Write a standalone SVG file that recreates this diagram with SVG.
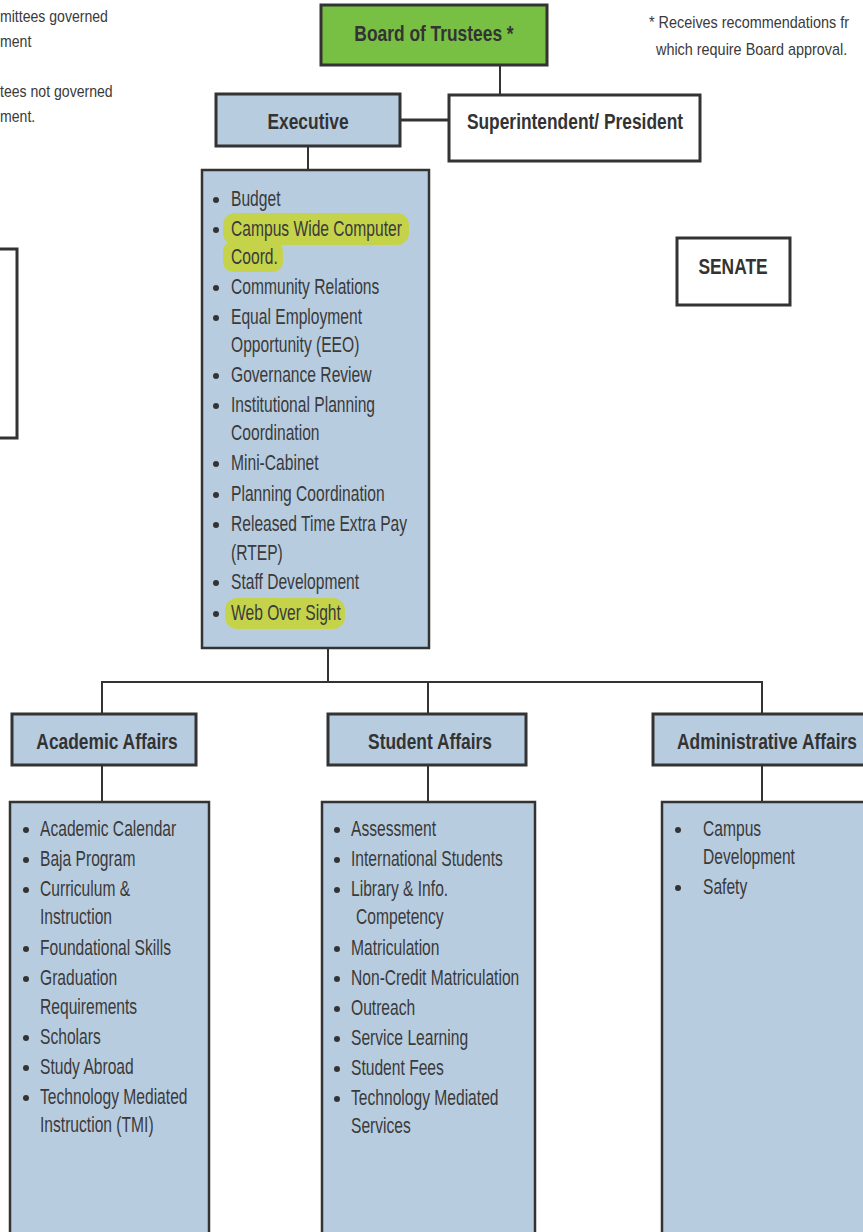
<svg xmlns="http://www.w3.org/2000/svg" width="863" height="1232" viewBox="0 0 863 1232">
<style>
.box{fill:#b8cce0;stroke:#333;stroke-width:3}
.lst{fill:#b8cce0;stroke:#333;stroke-width:2.5}
.wbox{fill:#fff;stroke:#333;stroke-width:3}
.h{font-family:"Liberation Sans",Arial,sans-serif;font-weight:bold;font-size:22px;fill:#333;text-anchor:middle}
.t{font-family:"Liberation Sans",Arial,sans-serif;font-size:22px;fill:#3a3a3a}
.n{font-family:"Liberation Sans",Arial,sans-serif;font-size:16px;fill:#3a3a3a}
.c{fill:none;stroke:#333;stroke-width:2}
.hl{fill:#c5d34a}
.b{fill:#333}
</style>
<rect width="863" height="1232" fill="#fff"/>
<g id="notes">
<text class="n" transform="translate(0,22) scale(0.88,1)">mittees governed</text>
<text class="n" transform="translate(0,47) scale(0.88,1)">ment</text>
<text class="n" transform="translate(0,97) scale(0.88,1)">tees not governed</text>
<text class="n" transform="translate(0,122) scale(0.88,1)">ment.</text>
<text class="n" transform="translate(649,28) scale(0.9,1)">* Receives recommendations fr</text>
<text class="n" transform="translate(656,55) scale(0.9,1)">which require Board approval.</text>
</g>
<g id="connectors">
<line class="c" x1="500" y1="65" x2="500" y2="95"/>
<line class="c" x1="400" y1="120" x2="449" y2="120" style="stroke-width:3"/>
<line class="c" x1="308" y1="146" x2="308" y2="170"/>
<line class="c" x1="316" y1="478" x2="316" y2="512" style="stroke-width:1.5"/>
<line class="c" x1="328" y1="648" x2="328" y2="682"/>
<polyline class="c" points="102,714 102,682 762,682 762,714"/>
<line class="c" x1="428" y1="682" x2="428" y2="714"/>
<line class="c" x1="102" y1="765" x2="102" y2="802"/>
<line class="c" x1="428" y1="765" x2="428" y2="802"/>
<line class="c" x1="762" y1="765" x2="762" y2="802"/>
</g>
<g id="left-box"><rect class="wbox" x="-10" y="249" width="27" height="189"/></g>
<g id="board">
<rect x="321" y="5" width="226" height="60" fill="#77c043" stroke="#333" stroke-width="3"/>
<text class="h" transform="translate(434,41) scale(0.79,1)">Board of Trustees *</text>
</g>
<g id="superintendent">
<rect class="wbox" x="449" y="95" width="251" height="66"/>
<text class="h" transform="translate(575,129) scale(0.79,1)">Superintendent/ President</text>
</g>
<g id="executive">
<rect class="box" x="216" y="94" width="184" height="52"/>
<text class="h" transform="translate(308,129) scale(0.79,1)">Executive</text>
</g>
<g id="senate">
<rect class="wbox" x="677" y="238" width="113" height="67"/>
<text class="h" transform="translate(733,274) scale(0.79,1)">SENATE</text>
</g>
<g id="executive-list">
<rect class="lst" x="202" y="170" width="227" height="478"/>
<rect class="hl" x="223" y="213" width="186" height="32" rx="12"/>
<rect class="hl" x="223" y="241" width="60" height="31" rx="10"/>
<rect class="hl" x="225" y="598" width="120" height="31" rx="12"/>
<g class="b">
<circle cx="216" cy="200" r="3"/><circle cx="216" cy="230" r="3"/><circle cx="216" cy="288" r="3"/><circle cx="216" cy="318" r="3"/><circle cx="216" cy="376" r="3"/><circle cx="216" cy="406" r="3"/><circle cx="216" cy="464" r="3"/><circle cx="216" cy="495" r="3"/><circle cx="216" cy="525" r="3"/><circle cx="216" cy="583" r="3"/><circle cx="216" cy="614" r="3"/>
</g>
<text class="t" transform="translate(231,206) scale(0.71,1)">Budget</text>
<text class="t" transform="translate(231,236) scale(0.71,1)">Campus Wide Computer</text>
<text class="t" transform="translate(231,264) scale(0.71,1)">Coord.</text>
<text class="t" transform="translate(231,294) scale(0.71,1)">Community Relations</text>
<text class="t" transform="translate(231,324) scale(0.71,1)">Equal Employment</text>
<text class="t" transform="translate(231,352) scale(0.71,1)">Opportunity (EEO)</text>
<text class="t" transform="translate(231,382) scale(0.71,1)">Governance Review</text>
<text class="t" transform="translate(231,412) scale(0.71,1)">Institutional Planning</text>
<text class="t" transform="translate(231,440) scale(0.71,1)">Coordination</text>
<text class="t" transform="translate(231,470) scale(0.71,1)">Mini-Cabinet</text>
<text class="t" transform="translate(231,501) scale(0.71,1)">Planning Coordination</text>
<text class="t" transform="translate(231,531) scale(0.71,1)">Released Time Extra Pay</text>
<text class="t" transform="translate(231,560) scale(0.71,1)">(RTEP)</text>
<text class="t" transform="translate(231,589) scale(0.71,1)">Staff Development</text>
<text class="t" transform="translate(231,620) scale(0.71,1)">Web Over Sight</text>
</g>
<g id="academic-affairs">
<rect class="box" x="12" y="714" width="184" height="51"/>
<text class="h" transform="translate(107,749) scale(0.79,1)">Academic Affairs</text>
</g>
<g id="student-affairs">
<rect class="box" x="328" y="714" width="198" height="51"/>
<text class="h" transform="translate(430,749) scale(0.79,1)">Student Affairs</text>
</g>
<g id="administrative-affairs">
<rect class="box" x="653" y="714" width="220" height="51"/>
<text class="h" transform="translate(767,749) scale(0.79,1)">Administrative Affairs</text>
</g>
<g id="academic-list">
<rect class="lst" x="10" y="802" width="199" height="440"/>
<g class="b">
<circle cx="26" cy="830" r="3"/><circle cx="26" cy="860" r="3"/><circle cx="26" cy="890" r="3"/><circle cx="26" cy="949" r="3"/><circle cx="26" cy="979" r="3"/><circle cx="26" cy="1038" r="3"/><circle cx="26" cy="1068" r="3"/><circle cx="26" cy="1098" r="3"/>
</g>
<text class="t" transform="translate(40,836) scale(0.71,1)">Academic Calendar</text>
<text class="t" transform="translate(40,866) scale(0.71,1)">Baja Program</text>
<text class="t" transform="translate(40,896) scale(0.71,1)">Curriculum &amp;</text>
<text class="t" transform="translate(40,924) scale(0.71,1)">Instruction</text>
<text class="t" transform="translate(40,955) scale(0.71,1)">Foundational Skills</text>
<text class="t" transform="translate(40,985) scale(0.71,1)">Graduation</text>
<text class="t" transform="translate(40,1014) scale(0.71,1)">Requirements</text>
<text class="t" transform="translate(40,1044) scale(0.71,1)">Scholars</text>
<text class="t" transform="translate(40,1074) scale(0.71,1)">Study Abroad</text>
<text class="t" transform="translate(40,1104) scale(0.71,1)">Technology Mediated</text>
<text class="t" transform="translate(40,1132) scale(0.71,1)">Instruction (TMI)</text>
</g>
<g id="student-list">
<rect class="lst" x="322" y="802" width="213" height="440"/>
<g class="b">
<circle cx="337" cy="830" r="3"/><circle cx="337" cy="860" r="3"/><circle cx="337" cy="890" r="3"/><circle cx="337" cy="949" r="3"/><circle cx="337" cy="979" r="3"/><circle cx="337" cy="1009" r="3"/><circle cx="337" cy="1039" r="3"/><circle cx="337" cy="1069" r="3"/><circle cx="337" cy="1099" r="3"/>
</g>
<text class="t" transform="translate(351,836) scale(0.71,1)">Assessment</text>
<text class="t" transform="translate(351,866) scale(0.71,1)">International Students</text>
<text class="t" transform="translate(351,896) scale(0.71,1)">Library &amp; Info.</text>
<text class="t" transform="translate(356,924) scale(0.71,1)">Competency</text>
<text class="t" transform="translate(351,955) scale(0.71,1)">Matriculation</text>
<text class="t" transform="translate(351,985) scale(0.71,1)">Non-Credit Matriculation</text>
<text class="t" transform="translate(351,1015) scale(0.71,1)">Outreach</text>
<text class="t" transform="translate(351,1045) scale(0.71,1)">Service Learning</text>
<text class="t" transform="translate(351,1075) scale(0.71,1)">Student Fees</text>
<text class="t" transform="translate(351,1105) scale(0.71,1)">Technology Mediated</text>
<text class="t" transform="translate(351,1133) scale(0.71,1)">Services</text>
</g>
<g id="administrative-list">
<rect class="lst" x="662" y="802" width="215" height="440"/>
<g class="b">
<circle cx="678" cy="830" r="3"/><circle cx="678" cy="888" r="3"/>
</g>
<text class="t" transform="translate(703,836) scale(0.71,1)">Campus</text>
<text class="t" transform="translate(703,864) scale(0.71,1)">Development</text>
<text class="t" transform="translate(703,894) scale(0.71,1)">Safety</text>
</g>
</svg>
